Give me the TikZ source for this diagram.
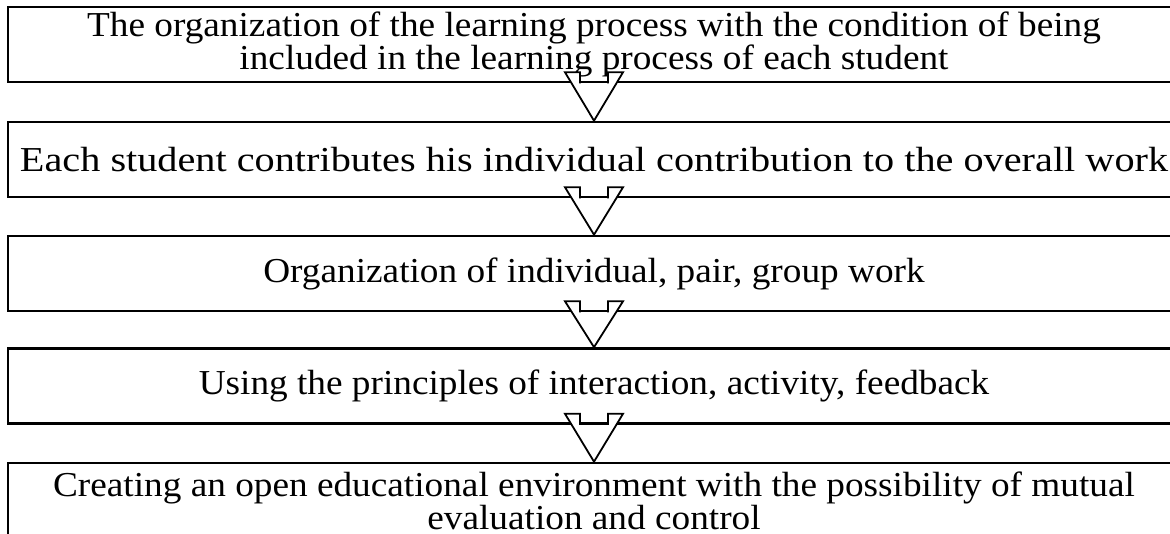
\documentclass[tikz,border=0pt]{standalone}
\usepackage{fontspec}
\setmainfont[FakeStretch=1.065]{Liberation Serif}
\newfontfamily\widefont[FakeStretch=1.15]{Liberation Serif}
\usetikzlibrary{calc}

\tikzset{
	stagebox/.style={draw, line width=1.3pt, minimum width=586pt, minimum height=37.5pt,
		inner sep=0pt, align=center, font=\fontsize{17.5}{16.5}\selectfont},
	stagearrow/.style={line width=0.9pt, line join=miter},
}

% arrow from the bottom of one box to the top of the next
\newcommand{\stagelink}[2]{%
	\fill[white] ($(#1.south)+(-14,2)$) -- ($(#1.south)+(-14,-11)$) -- ($(#1.south)+(-29,-11)$)
		-- (#2.north) -- ($(#1.south)+(29,-11)$) -- ($(#1.south)+(14,-11)$) -- ($(#1.south)+(14,2)$) -- cycle;
	\draw[stagearrow] ($(#1.south)+(-14,0)$) -- ($(#1.south)+(-14,-11)$) -- ($(#1.south)+(-29,-11)$)
		-- (#2.north) -- ($(#1.south)+(29,-11)$) -- ($(#1.south)+(14,-11)$) -- ($(#1.south)+(14,0)$);
}

\begin{document}
\begin{tikzpicture}[x=0.5pt, y=-0.5pt]
				\useasboundingbox (0,0) rectangle (1170,534);
				
				% Boxes
				\node[stagebox] (org) at (594, 44.5) {The organization of the learning process with the condition of being\\included in the learning process of each student};
				\node[stagebox] (each) at (594, 159.5) {\widefont Each student contributes his individual contribution to the overall work};
				\node[stagebox] (pair) at (594, 273.5) {Organization of individual, pair, group work};
				\node[stagebox] (princ) at (594, 386) {Using the principles of interaction, activity, feedback};
				\node[stagebox] (env) at (594, 500.5) {Creating an open educational environment with the possibility of mutual\\evaluation and control};
				
				% Arrows
				\stagelink{org}{each}
				\stagelink{each}{pair}
				\stagelink{pair}{princ}
				\stagelink{princ}{env}
			\end{tikzpicture}
\end{document}
